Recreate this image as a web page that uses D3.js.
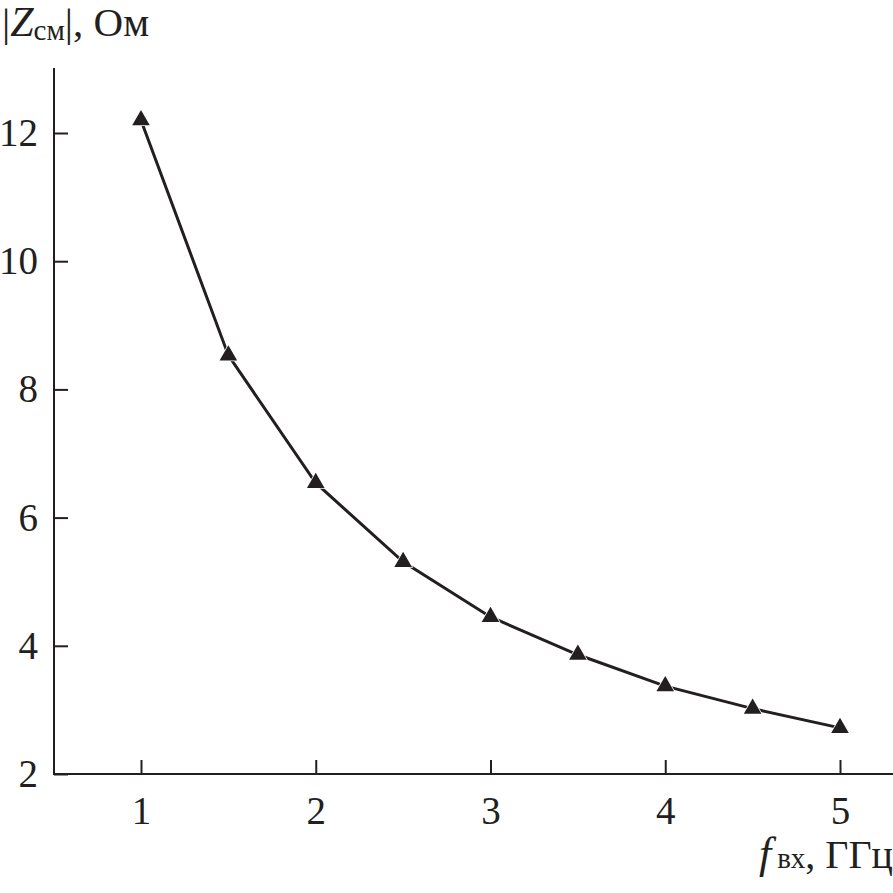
<!DOCTYPE html>
<html>
<head>
<meta charset="utf-8">
<script src="https://cdn.jsdelivr.net/npm/d3@7"></script>
<style>
  html, body { margin: 0; padding: 0; background: #fff; }
  svg { display: block; }
  text { font-family: "Liberation Serif", "DejaVu Serif", serif; fill: #231f20; }
</style>
</head>
<body>
<svg id="chart" width="893" height="893"></svg>
<script>
const freqs = [1, 1.5, 2, 2.5, 3, 3.5, 4, 4.5, 5];
const impedance = [12.2, 8.53, 6.54, 5.31, 4.45, 3.86, 3.37, 3.02, 2.72];
const xTicks = [1, 2, 3, 4, 5];
const yTicks = [2, 4, 6, 8, 10, 12];

const W = 893, H = 893;
const axisX = 54, axisTop = 68, axisY = 774;
const ink = "#231f20";

const svg = d3.select("#chart");
const x = d3.scaleLinear().domain([1, 5]).range([141, 840]);
const y = d3.scaleLinear().domain([2, 12]).range([axisY, 133]);

// X axis
const gx = svg.append("g").attr("transform", `translate(0,${axisY})`)
  .call(d3.axisBottom(x).tickValues(xTicks).tickFormat(d3.format("d"))
    .tickSizeInner(-14).tickSizeOuter(0).tickPadding(22));
gx.select(".domain").remove();
gx.selectAll(".tick line").attr("stroke", ink).attr("stroke-width", 2);
gx.selectAll(".tick text").attr("font-size", 39).attr("fill", ink)
  .attr("font-family", "'Liberation Serif', serif");

// Y axis
const gy = svg.append("g").attr("transform", `translate(${axisX},0)`)
  .call(d3.axisLeft(y).tickValues(yTicks).tickFormat(d3.format("d"))
    .tickSizeInner(-14).tickSizeOuter(0).tickPadding(16));
gy.select(".domain").remove();
gy.selectAll(".tick line").attr("stroke", ink).attr("stroke-width", 2);
gy.selectAll(".tick text").attr("font-size", 39).attr("fill", ink)
  .attr("font-family", "'Liberation Serif', serif");

// Axis lines
svg.append("line").attr("x1", axisX).attr("x2", axisX).attr("y1", axisTop).attr("y2", axisY + 1)
  .attr("stroke", ink).attr("stroke-width", 2);
svg.append("line").attr("x1", axisX - 1).attr("x2", W).attr("y1", axisY).attr("y2", axisY)
  .attr("stroke", ink).attr("stroke-width", 2);

// Data line
const pts = freqs.map((f, i) => [f, impedance[i]]);
svg.append("path")
  .datum(pts)
  .attr("fill", "none")
  .attr("stroke", ink)
  .attr("stroke-width", 3)
  .attr("d", d3.line().x(d => x(d[0])).y(d => y(d[1])));

// Markers
svg.selectAll(".mk").data(pts).enter().append("path")
  .attr("class", "mk")
  .attr("d", d3.symbol().type(d3.symbolTriangle).size(135))
  .attr("transform", d => `translate(${x(d[0])},${y(d[1])})`)
  .attr("fill", ink)
  .attr("stroke", "#fff")
  .attr("stroke-width", 1.5)
  .style("paint-order", "stroke");

// Y title
const yt = svg.append("text").attr("x", 2).attr("y", 36).attr("font-size", 41);
yt.append("tspan").text("|");
yt.append("tspan").attr("font-style", "italic").attr("font-size", 42).text("Z");
yt.append("tspan").attr("font-size", 29).attr("dy", 4).text("см");
yt.append("tspan").attr("dy", -4).text("|");
yt.append("tspan").text(", Ом");

// X title
const xt = svg.append("text").attr("x", 893).attr("y", 868).attr("text-anchor", "end").attr("font-size", 40);
xt.append("tspan").attr("font-style", "italic").attr("font-size", 44).text("f");
xt.append("tspan").attr("font-size", 29).attr("dx", 6).text("вх");
xt.append("tspan").text(", ГГц");
</script>
</body>
</html>
